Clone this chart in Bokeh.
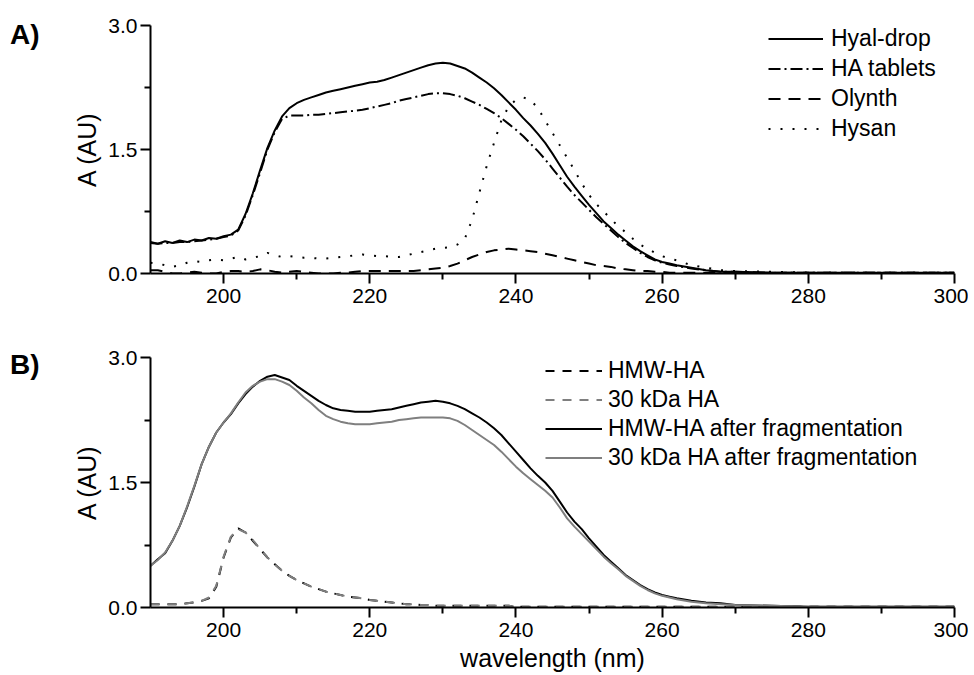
from bokeh.plotting import figure
from bokeh.models import Range1d, FixedTicker, PrintfTickFormatter, Div
from bokeh.layouts import column, row
from bokeh.embed import file_html
from bokeh.resources import INLINE

# ---------------- data ----------------
wl = list(range(190, 263)) + [264, 266, 268, 270, 275, 280, 285, 290, 295, 300]

# Panel A
hyal_drop = [0.38, 0.36, 0.39, 0.37, 0.40, 0.38, 0.41, 0.40, 0.43, 0.42,
             0.45, 0.47, 0.53, 0.72, 0.97, 1.25, 1.52, 1.73, 1.90, 2.00,
             2.06, 2.10, 2.13, 2.16, 2.19, 2.21, 2.23, 2.25, 2.27, 2.29,
             2.31, 2.32, 2.34, 2.37, 2.40, 2.43, 2.46, 2.49, 2.52, 2.54,
             2.55, 2.54, 2.51, 2.48, 2.43, 2.37, 2.31, 2.24, 2.16, 2.07,
             1.98, 1.88, 1.79, 1.69, 1.58, 1.45, 1.31, 1.17, 1.05, 0.94,
             0.83, 0.73, 0.63, 0.55, 0.47, 0.40, 0.33, 0.27, 0.22, 0.17,
             0.14, 0.12, 0.10,
             0.07, 0.04, 0.02, 0.02, 0.01, 0.01, 0.01, 0.01, 0.01, 0.01]
ha_tablets = [0.37, 0.36, 0.37, 0.37, 0.38, 0.38, 0.39, 0.40, 0.41, 0.42,
              0.44, 0.46, 0.52, 0.70, 0.95, 1.22, 1.50, 1.71, 1.87, 1.91,
              1.91, 1.91, 1.92, 1.92, 1.93, 1.94, 1.95, 1.96, 1.97, 1.98,
              2.00, 2.02, 2.04, 2.06, 2.09, 2.11, 2.13, 2.15, 2.17, 2.18,
              2.18, 2.17, 2.15, 2.12, 2.08, 2.04, 1.99, 1.94, 1.88, 1.81,
              1.74, 1.66, 1.57, 1.48, 1.38, 1.27, 1.16, 1.05, 0.95, 0.86,
              0.77, 0.68, 0.60, 0.52, 0.44, 0.37, 0.31, 0.25, 0.20, 0.16,
              0.13, 0.11, 0.09,
              0.06, 0.04, 0.02, 0.02, 0.01, 0.01, 0.01, 0.01, 0.01, 0.01]
olynth = [0.04, 0.04, 0.02, 0.00, 0.00, 0.01, 0.02, 0.01, 0.00, 0.00,
          0.02, 0.03, 0.03, 0.02, 0.03, 0.05, 0.04, 0.02, 0.01, 0.02,
          0.03, 0.02, 0.01, 0.00, 0.00, 0.00, 0.01, 0.01, 0.02, 0.03,
          0.03, 0.03, 0.03, 0.03, 0.03, 0.03, 0.03, 0.04, 0.05, 0.06,
          0.07, 0.09, 0.12, 0.16, 0.20, 0.23, 0.26, 0.28, 0.29, 0.30,
          0.29, 0.28, 0.27, 0.26, 0.24, 0.22, 0.20, 0.18, 0.16, 0.14,
          0.12, 0.10, 0.09, 0.08, 0.06, 0.05, 0.04, 0.03, 0.03, 0.02,
          0.02, 0.01, 0.01,
          0.01, 0.01, 0.01, 0.01, 0.01, 0.01, 0.01, 0.01, 0.01, 0.01]
hysan = [0.13, 0.12, 0.10, 0.08, 0.10, 0.13, 0.15, 0.14, 0.16, 0.17,
         0.16, 0.18, 0.20, 0.17, 0.19, 0.21, 0.25, 0.22, 0.20, 0.21,
         0.20, 0.19, 0.19, 0.18, 0.18, 0.19, 0.20, 0.21, 0.22, 0.23,
         0.22, 0.21, 0.21, 0.20, 0.20, 0.22, 0.24, 0.26, 0.28, 0.30,
         0.31, 0.32, 0.35, 0.42, 0.65, 0.98, 1.30, 1.58, 1.85, 2.02,
         2.10, 2.13, 2.10, 2.00, 1.85, 1.70, 1.55, 1.40, 1.25, 1.09,
         0.95, 0.84, 0.75, 0.66, 0.57, 0.50, 0.42, 0.35, 0.30, 0.25,
         0.21, 0.18, 0.16,
         0.10, 0.07, 0.04, 0.03, 0.02, 0.01, 0.01, 0.01, 0.01, 0.01]

# Panel B
hmw_ha = [0.04, 0.04, 0.04, 0.04, 0.04, 0.05, 0.06, 0.08, 0.11, 0.25,
          0.60, 0.84, 0.95, 0.90, 0.80, 0.70, 0.60, 0.52, 0.44, 0.38,
          0.33, 0.29, 0.25, 0.22, 0.19, 0.17, 0.15, 0.13, 0.12, 0.11,
          0.09, 0.08, 0.07, 0.06, 0.05, 0.04, 0.04, 0.03, 0.03, 0.02,
          0.02, 0.02, 0.02, 0.02, 0.02, 0.02, 0.02, 0.02, 0.02, 0.02,
          0.01, 0.01, 0.01, 0.01, 0.01, 0.01, 0.01, 0.01, 0.01, 0.01,
          0.01, 0.01, 0.01, 0.01, 0.01, 0.01, 0.01, 0.01, 0.01, 0.01,
          0.01, 0.01, 0.01,
          0.01, 0.01, 0.01, 0.01, 0.01, 0.01, 0.01, 0.01, 0.01, 0.01]
kda30_ha = [0.04, 0.04, 0.04, 0.04, 0.04, 0.05, 0.06, 0.08, 0.12, 0.26,
            0.61, 0.85, 0.94, 0.90, 0.81, 0.70, 0.60, 0.52, 0.44, 0.38,
            0.33, 0.29, 0.25, 0.22, 0.19, 0.17, 0.15, 0.13, 0.12, 0.11,
            0.09, 0.08, 0.07, 0.06, 0.05, 0.04, 0.04, 0.03, 0.03, 0.02,
            0.02, 0.02, 0.02, 0.02, 0.02, 0.02, 0.02, 0.02, 0.02, 0.02,
            0.01, 0.01, 0.01, 0.01, 0.01, 0.01, 0.01, 0.01, 0.01, 0.01,
            0.01, 0.01, 0.01, 0.01, 0.01, 0.01, 0.01, 0.01, 0.01, 0.01,
            0.01, 0.01, 0.01,
            0.01, 0.01, 0.01, 0.01, 0.01, 0.01, 0.01, 0.01, 0.01, 0.01]
hmw_frag = [0.50, 0.58, 0.65, 0.80, 0.98, 1.20, 1.45, 1.72, 1.93, 2.10,
            2.22, 2.32, 2.45, 2.56, 2.65, 2.72, 2.77, 2.79, 2.76, 2.73,
            2.66, 2.60, 2.54, 2.48, 2.43, 2.39, 2.37, 2.36, 2.35, 2.35,
            2.35, 2.36, 2.37, 2.38, 2.40, 2.42, 2.44, 2.46, 2.47, 2.48,
            2.47, 2.45, 2.42, 2.38, 2.33, 2.28, 2.22, 2.15, 2.07, 1.97,
            1.87, 1.77, 1.67, 1.58, 1.50, 1.40, 1.27, 1.14, 1.03, 0.94,
            0.83, 0.73, 0.63, 0.55, 0.47, 0.39, 0.33, 0.27, 0.22, 0.18,
            0.15, 0.13, 0.11,
            0.08, 0.06, 0.05, 0.03, 0.02, 0.01, 0.01, 0.01, 0.01, 0.01]
kda30_frag = [0.50, 0.57, 0.66, 0.80, 0.98, 1.21, 1.46, 1.72, 1.93, 2.10,
              2.22, 2.33, 2.46, 2.58, 2.66, 2.71, 2.74, 2.74, 2.71, 2.67,
              2.60, 2.52, 2.45, 2.37, 2.30, 2.26, 2.23, 2.21, 2.20, 2.20,
              2.20, 2.21, 2.22, 2.23, 2.25, 2.26, 2.27, 2.28, 2.28, 2.28,
              2.28, 2.27, 2.24, 2.19, 2.13, 2.07, 2.01, 1.95, 1.87, 1.78,
              1.69, 1.61, 1.54, 1.47, 1.40, 1.32, 1.20, 1.07, 0.97, 0.88,
              0.79, 0.70, 0.61, 0.53, 0.46, 0.38, 0.32, 0.26, 0.21, 0.17,
              0.14, 0.12, 0.10,
              0.07, 0.05, 0.04, 0.03, 0.02, 0.01, 0.01, 0.01, 0.01, 0.01]

x_ticks = [200, 220, 240, 260, 280, 300]
x_minor = [210, 230, 250, 270, 290]
y_ticks = [0.0, 1.5, 3.0]
y_minor = [0.75, 2.25]

FONT = "Liberation Sans"
GRAY = "#7f7f7f"
LABEL_COL = 40  # width of the column that holds the "A)" / "B)" panel letters


def make_fig(height, top, bottom):
    p = figure(width=968 - LABEL_COL, height=height, output_backend="svg", toolbar_location=None,
               x_range=Range1d(190, 300), y_range=Range1d(0, 3),
               min_border_left=150 - LABEL_COL, min_border_right=14,
               min_border_top=top, min_border_bottom=bottom)
    p.outline_line_color = None
    p.xgrid.visible = False
    p.ygrid.visible = False
    p.background_fill_color = "white"
    p.border_fill_color = "white"
    p.xaxis.ticker = FixedTicker(ticks=x_ticks, minor_ticks=x_minor)
    p.yaxis.ticker = FixedTicker(ticks=y_ticks, minor_ticks=y_minor)
    p.yaxis.formatter = PrintfTickFormatter(format="%.1f")
    for ax in (p.xaxis[0], p.yaxis[0]):
        ax.axis_line_width = 2
        ax.axis_line_color = "black"
        ax.major_tick_line_width = 2
        ax.minor_tick_line_width = 2
        ax.major_tick_line_color = "black"
        ax.minor_tick_line_color = "black"
        ax.major_tick_out = 10
        ax.major_tick_in = 0
        ax.minor_tick_out = 6
        ax.minor_tick_in = 0
        ax.major_label_text_font = FONT
        ax.major_label_text_font_size = "21px"
        ax.major_label_text_color = "black"
        ax.axis_label_text_font = FONT
        ax.axis_label_text_font_size = "25px"
        ax.axis_label_text_font_style = "normal"
        ax.axis_label_text_color = "black"
    p.xaxis.major_label_standoff = 5
    p.yaxis.major_label_standoff = 3
    p.yaxis.axis_label = "A (AU)"
    p.yaxis.axis_label_standoff = 4
    return p


def style_legend(p, label_width, glyph_width, standoff, spacing):
    lg = p.legend[0]
    lg.location = "top_right"
    lg.margin = 0
    lg.padding = 0
    lg.border_line_alpha = 0
    lg.background_fill_alpha = 0
    lg.label_text_font = FONT
    lg.label_text_font_size = "23px"
    lg.label_text_color = "black"
    lg.label_width = label_width
    lg.glyph_width = glyph_width
    lg.glyph_height = 25
    lg.label_height = 25
    lg.label_standoff = standoff
    lg.spacing = spacing


def panel_letter(text, top, height):
    return Div(text=text, width=LABEL_COL - 10, height=height, margin=(top, 0, 0, 10),
               styles={"font-family": FONT, "font-size": "28px", "font-weight": "bold",
                       "line-height": "32px", "color": "black"})


# ---------------- panel A ----------------
pa = make_fig(313, 25, 40)
pa.line(wl, hyal_drop, line_color="black", line_width=2, legend_label="Hyal-drop")
pa.line(wl, ha_tablets, line_color="black", line_width=2, line_dash="12 4 2 4", legend_label="HA tablets")
pa.line(wl, olynth, line_color="black", line_width=2, line_dash="12 8", legend_label="Olynth")
pa.line(wl, hysan, line_color="black", line_width=2, line_dash="2 10", legend_label="Hysan")
style_legend(pa, 123, 55, 8, 3)

# ---------------- panel B ----------------
pb = make_fig(362, 44, 68)
pb.line(wl, hmw_ha, line_color="black", line_width=2, line_dash="9 8", legend_label="HMW-HA")
pb.line(wl, kda30_ha, line_color=GRAY, line_width=2, line_dash="9 8", legend_label="30 kDa HA")
pb.line(wl, hmw_frag, line_color="black", line_width=2, legend_label="HMW-HA after fragmentation")
pb.line(wl, kda30_frag, line_color=GRAY, line_width=2, legend_label="30 kDa HA after fragmentation")
style_legend(pb, 346, 57, 6, 2)
pb.xaxis.axis_label = "wavelength (nm)"
pb.xaxis.axis_label_standoff = 4

layout = column(row(panel_letter("A)", 19, 40), pa),
                row(panel_letter("B)", 36, 40), pb))
open("out.html", "w").write(file_html(layout, INLINE))
